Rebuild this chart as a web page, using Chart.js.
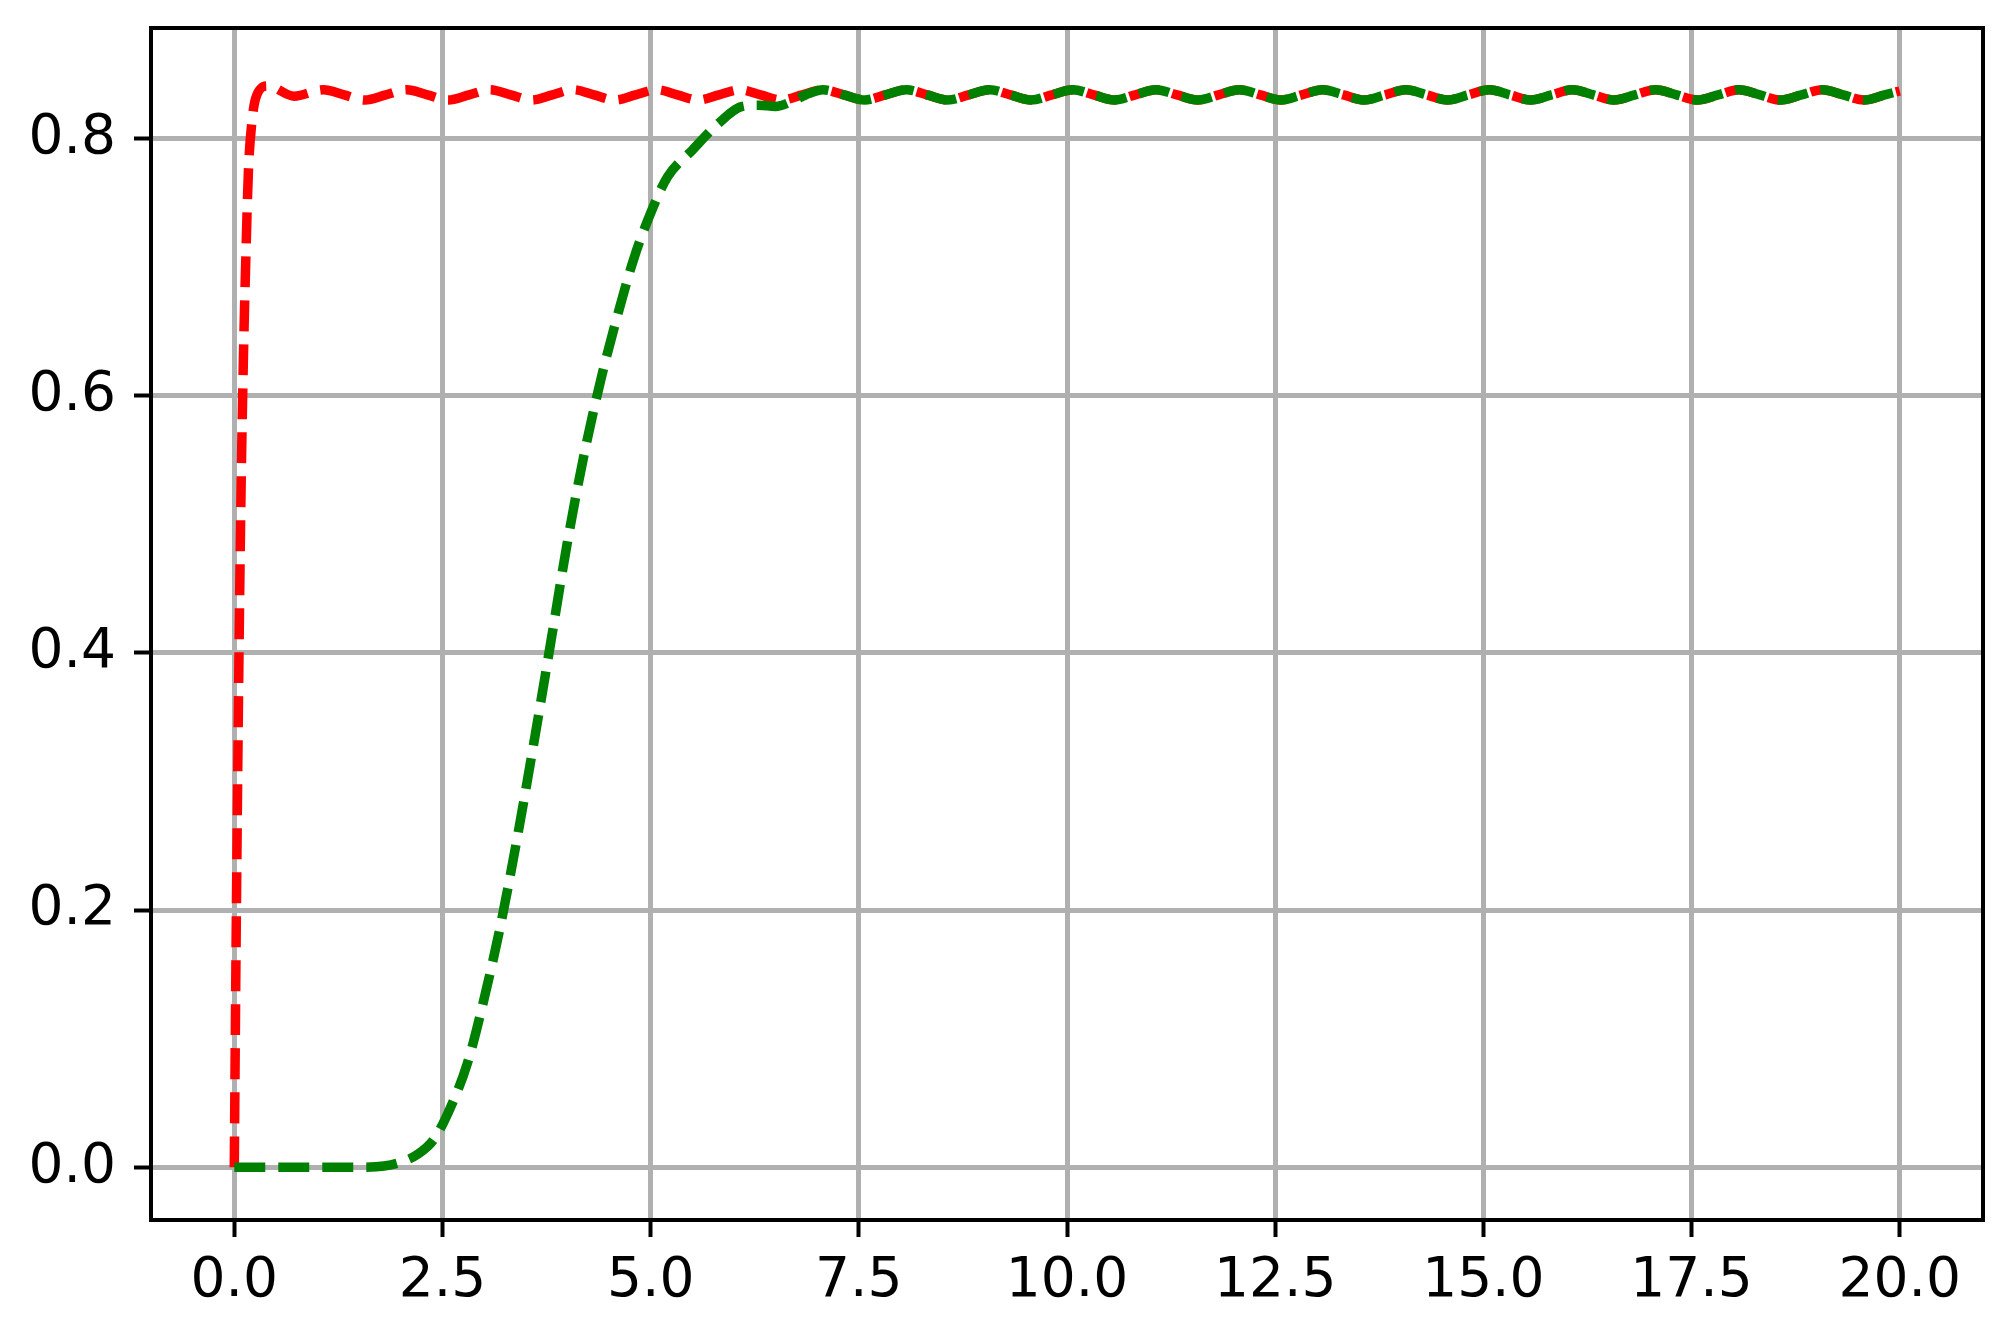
<!DOCTYPE html>
<html>
<head>
<meta charset="utf-8">
<script src="https://cdn.jsdelivr.net/npm/chart.js@4.4.1/dist/chart.umd.min.js"></script>
<style>
  html, body { margin: 0; padding: 0; background: #fff; }
  canvas { display: block; }
</style>
</head>
<body>
<canvas id="myChart" width="2010" height="1338"></canvas>
<script>
const xTicks = [0, 2.5, 5, 7.5, 10, 12.5, 15, 17.5, 20];
const yTicks = [0, 0.2, 0.4, 0.6, 0.8];

// red: fast response
const redX = [0, 0.02, 0.05, 0.08, 0.11, 0.14, 0.17, 0.21, 0.26, 0.4, 0.72,
    1.07, 1.32, 1.57, 1.82, 2.07, 2.32, 2.57, 2.82, 3.07, 3.32, 3.57, 3.82,
    4.07, 4.32, 4.57, 4.82, 5.07, 5.32, 5.57, 5.82, 6.07, 6.32, 6.57, 6.82];
const redY = [0, 0.16, 0.36, 0.52, 0.63, 0.71, 0.775, 0.812, 0.832, 0.841, 0.833,
    0.838, 0.834, 0.830, 0.834, 0.838, 0.834, 0.830, 0.834, 0.838, 0.834, 0.830, 0.834,
    0.838, 0.834, 0.830, 0.834, 0.838, 0.834, 0.830, 0.834, 0.838, 0.834, 0.830, 0.834];

// green: delayed response
const greenX = [0, 0.5, 1.0, 1.5, 1.8, 2.0, 2.2, 2.4, 2.6, 2.8, 3.0, 3.2, 3.4, 3.6, 3.8,
    4.0, 4.2, 4.4, 4.6, 4.8, 5.0, 5.2, 5.5, 5.8, 6.1, 6.3, 6.5, 6.7, 6.9];
const greenY = [0, 0, 0, 0, 0.001, 0.004, 0.010, 0.022, 0.047, 0.081, 0.131, 0.189, 0.257, 0.331, 0.408,
    0.486, 0.554, 0.612, 0.662, 0.707, 0.742, 0.770, 0.791, 0.811, 0.825, 0.826, 0.825, 0.829, 0.835];

// both curves share this ripple after t ~ 7
const tailX = [7.07, 7.32, 7.57, 7.82, 8.07, 8.32, 8.57, 8.82, 9.07, 9.32, 9.57, 9.82,
    10.07, 10.32, 10.57, 10.82, 11.07, 11.32, 11.57, 11.82, 12.07, 12.32, 12.57, 12.82,
    13.07, 13.32, 13.57, 13.82, 14.07, 14.32, 14.57, 14.82, 15.07, 15.32, 15.57, 15.82,
    16.07, 16.32, 16.57, 16.82, 17.07, 17.32, 17.57, 17.82, 18.07, 18.32, 18.57, 18.82,
    19.07, 19.32, 19.57, 19.82, 20.0];
const tailY = [0.838, 0.834, 0.830, 0.834, 0.838, 0.834, 0.830, 0.834, 0.838, 0.834, 0.830, 0.834,
    0.838, 0.834, 0.830, 0.834, 0.838, 0.834, 0.830, 0.834, 0.838, 0.834, 0.830, 0.834,
    0.838, 0.834, 0.830, 0.834, 0.838, 0.834, 0.830, 0.834, 0.838, 0.834, 0.830, 0.834,
    0.838, 0.834, 0.830, 0.834, 0.838, 0.834, 0.830, 0.834, 0.838, 0.834, 0.830, 0.834,
    0.838, 0.834, 0.830, 0.834, 0.837];

const toPoints = (xs, ys) => xs.map((x, i) => ({ x: x, y: ys[i] }));
const redPoints = toPoints(redX.concat(tailX), redY.concat(tailY));
const greenPoints = toPoints(greenX.concat(tailX), greenY.concat(tailY));

const frame = {
    id: "frame",
    afterDatasetsDraw(chart) {
        const a = chart.chartArea;
        const c = chart.ctx;
        c.save();
        c.strokeStyle = "#000";
        c.lineWidth = 4;
        c.strokeRect(a.left, a.top, a.right - a.left, a.bottom - a.top);
        c.restore();
    },
};

const font = { family: "DejaVu Sans", size: 55 };
const grid = {
    color: "#b0b0b0",
    lineWidth: 5,
    tickColor: "#000",
    tickWidth: 4,
    tickLength: 17,
};

new Chart(document.getElementById("myChart"), {
    type: "line",
    data: {
        datasets: [
            {
                data: redPoints,
                borderColor: "#ff0000",
                borderWidth: 9.5,
                borderDash: [31, 13],
                borderCapStyle: "butt",
                pointRadius: 0,
                cubicInterpolationMode: "monotone",
                order: 1,
            },
            {
                data: greenPoints,
                borderColor: "#008000",
                borderWidth: 9.5,
                borderDash: [31, 13],
                borderCapStyle: "butt",
                pointRadius: 0,
                cubicInterpolationMode: "monotone",
                order: 0,
            },
        ],
    },
    options: {
        responsive: false,
        animation: false,
        layout: { padding: { top: 28, right: 27, left: 0, bottom: 0 } },
        plugins: { legend: { display: false }, tooltip: { enabled: false } },
        scales: {
            x: {
                type: "linear",
                min: -1,
                max: 21,
                afterBuildTicks: (s) => { s.ticks = xTicks.map((v) => ({ value: v })); },
                afterFit: (s) => { s.height = 118; s.paddingLeft = 0; s.paddingRight = 0; },
                ticks: {
                    color: "#000",
                    font: font,
                    padding: 12,
                    maxRotation: 0,
                    callback: (v) => Number(v).toFixed(1),
                },
                grid: grid,
                border: { display: false },
            },
            y: {
                type: "linear",
                min: -0.041,
                max: 0.886,
                afterBuildTicks: (s) => { s.ticks = yTicks.map((v) => ({ value: v })); },
                afterFit: (s) => { s.width = 151; s.paddingTop = 0; s.paddingBottom = 0; },
                ticks: {
                    color: "#000",
                    font: font,
                    padding: 18,
                    callback: (v) => Number(v).toFixed(1),
                },
                grid: grid,
                border: { display: false },
            },
        },
    },
    plugins: [frame],
});
</script>
</body>
</html>
